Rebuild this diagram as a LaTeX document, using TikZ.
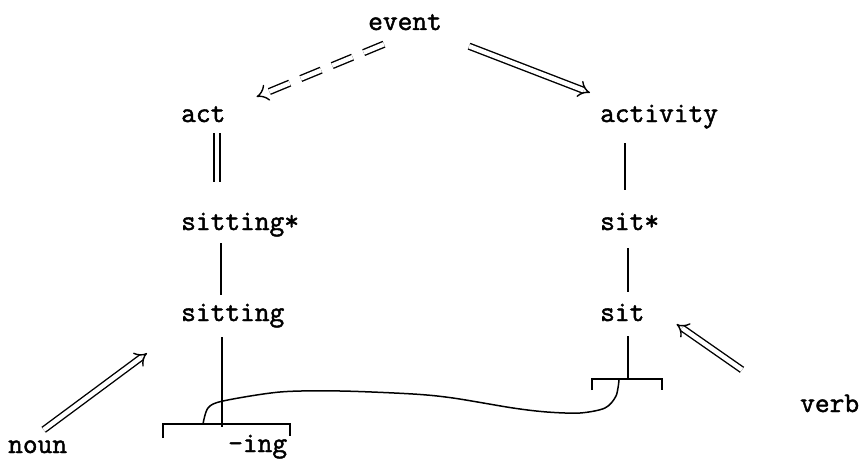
\documentclass[tikz,border=0pt]{standalone}
\usepackage{fontspec}
\newfontfamily\typewriter{Latin Modern Mono}[FakeBold=1.6]
\usetikzlibrary{arrows.meta}

\begin{document}
\begin{tikzpicture}[
    x=1pt,y=-1pt,
    word/.style={font={\typewriter\fontsize{28.6}{34}\selectfont},anchor=base west,
        inner sep=0pt,text height=13pt,text depth=4pt},
    link/.style={line width=1.5pt},
    dbl/.style={double,line width=1.4pt,double distance=4.5pt},
    imp/.style={dbl,-{Implies[length=7pt]}},
    brk/.style={line width=1.4pt}
]
\useasboundingbox (0,0) rectangle (865,460);

% words
\node[word] (event) at (368,30) {event};
\node[word] (act) at (181,122) {act};
\node[word] (activity) at (600,122) {activity};
\node[word] (sittingstar) at (181,230) {sitting*};
\node[word] (sitstar) at (600,230) {sit*};
\node[word] (sitting) at (181,321) {sitting};
\node[word] (sit) at (600,321) {sit};
\node[word] (noun) at (8,453) {noun};
\node[word] (verb) at (800,412) {verb};
\node[word] (ing) at (228,452) {-ing};

% brackets
\coordinate (ingL) at (163,424);
\coordinate (ingR) at (290,424);
\coordinate (sitL) at (592,379);
\coordinate (sitR) at (662,379);
\draw[brk] (ingL) ++(0,14) -- (ingL) -- (ingR) -- ++(0,12);
\draw[brk] (sitL) ++(0,11) -- (sitL) -- (sitR) -- ++(0,11);

% event to act and activity
\draw[imp,dash pattern=on 22pt off 12pt]
    ([shift={(16,10)}]event.south west) -- ([shift={(31,-12)}]act.north east);
\draw[imp] ([shift={(27,12)}]event.south east) -- ([shift={(-10,-16)}]activity.north west);

% left column
\draw[dbl,shorten <=7pt,shorten >=35pt] ([xshift=36pt]act.south west) -- ([xshift=36pt]sittingstar.north west);
\draw[link,shorten <=9pt,shorten >=13pt] ([xshift=40pt]sittingstar.south west) -- ([xshift=40pt]sitting.north west);
\draw[link,shorten <=12pt,shorten >=-3pt] ([xshift=41pt]sitting.south west) -- ([xshift=41pt]sitting.south west |- ingL);

% right column
\draw[link,shorten <=17pt,shorten >=27pt] ([xshift=25pt]activity.south west) -- ([xshift=25pt]sitstar.north west);
\draw[link,shorten <=14pt,shorten >=16pt] ([xshift=28pt]sitstar.south west) -- ([xshift=28pt]sit.north west);
\draw[link,shorten <=11pt] ([xshift=28pt]sit.south west) -- ([xshift=28pt]sit.south west |- sitL);

% suffix link
\draw[link]
    plot[smooth] coordinates {(203,424) (208,408) (223,401) (280,392) (340,391) (413,394)
        (453,398) (513,408) (547,412) (580,413) (605,408) (616,396) (619,380)};

% category arrows
\draw[imp] ([shift={(6,-10)}]noun.north) -- ([shift={(-34,28)}]sitting.south west);
\draw[imp] ([shift={(-58,-29)}]verb.north west) -- ([shift={(32,-1)}]sit.south east);

\end{tikzpicture}
\end{document}
